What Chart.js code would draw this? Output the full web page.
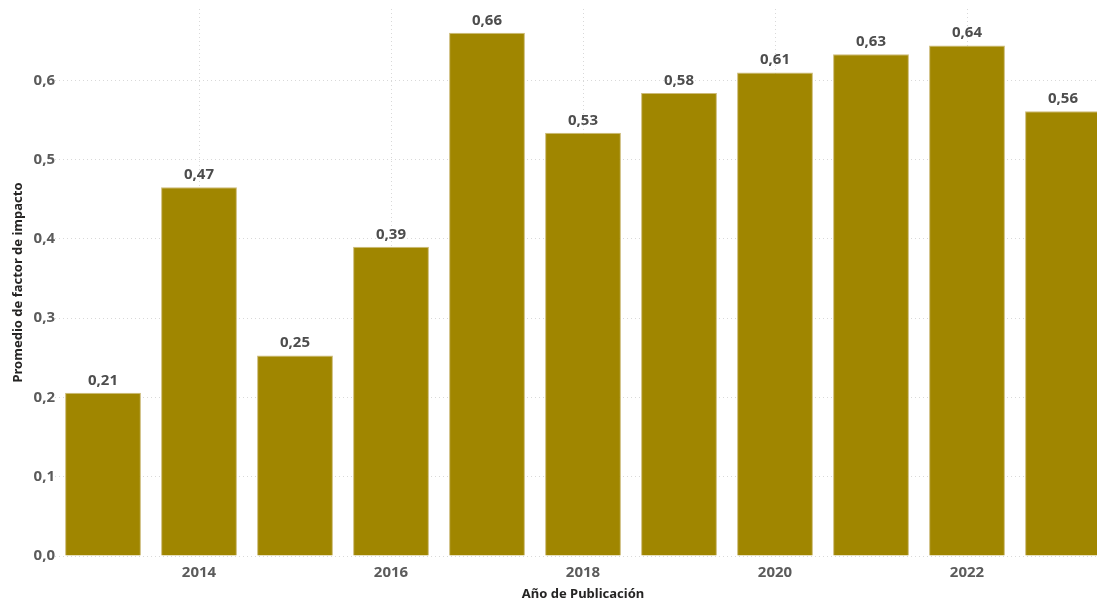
<!DOCTYPE html>
<html>
<head>
<meta charset="utf-8">
<script src="https://cdn.jsdelivr.net/npm/chart.js@4/dist/chart.umd.min.js"></script>
<style>
  html, body { margin: 0; padding: 0; background: #fff; overflow: hidden; }
  #wrap { position: relative; width: 1111px; height: 603px; }
</style>
</head>
<body>
<div id="wrap"><canvas id="c"></canvas></div>
<script>
// Average impact factor per publication year
const years = ['2013', '2014', '2015', '2016', '2017', '2018', '2019', '2020', '2021', '2022', '2023'];
const promedio = [0.206, 0.465, 0.253, 0.390, 0.660, 0.534, 0.584, 0.610, 0.633, 0.644, 0.561];
const yTicks = [0, 0.1, 0.2, 0.3, 0.4, 0.5, 0.6];

const BAR = '#A08600';
const TEXT = '#5b5b5b';
const TITLE = '#252423';
const GRID = '#d9d9d9';
const FONT = '"Noto Sans", "Open Sans", sans-serif';

const fmt = v => v.toFixed(2).replace('.', ',');

// value labels above each bar
const valueLabels = {
  id: 'valueLabels',
  afterDatasetsDraw(chart) {
    const ctx = chart.ctx;
    const meta = chart.getDatasetMeta(0);
    ctx.save();
    ctx.font = 'bold 15px ' + FONT;
    ctx.fillStyle = '#4d4d4d';
    ctx.textAlign = 'center';
    ctx.textBaseline = 'alphabetic';
    meta.data.forEach((bar, i) => {
      ctx.fillText(fmt(promedio[i]), bar.x, bar.y - 8);
    });
    ctx.restore();
  }
};

new Chart(document.getElementById('c'), {
  type: 'bar',
  data: {
    labels: years,
    datasets: [{
      data: promedio,
      backgroundColor: BAR,
      borderColor: '#cdbb78',
      borderWidth: 1,
      categoryPercentage: 1,
      barPercentage: 0.79
    }]
  },
  options: {
    responsive: true,
    maintainAspectRatio: false,
    animation: false,
    layout: { padding: { top: 7, left: 0, right: 0, bottom: 0 } },
    plugins: { legend: { display: false }, tooltip: { enabled: false } },
    scales: {
      x: {
        afterFit(scale) { scale.height = 47; },
        grid: {
          offset: false,
          drawTicks: false,
          color: ctx => (ctx.index % 2 === 1 ? GRID : 'rgba(0,0,0,0)'),
          lineWidth: 1
        },
        border: { display: false, dash: [1, 3] },
        ticks: {
          autoSkip: false,
          maxRotation: 0,
          padding: 8,
          color: TEXT,
          font: { family: FONT, size: 15, weight: 'bold' },
          callback(value, index) {
            const y = years[index];
            return parseInt(y, 10) % 2 === 0 ? y : '';
          }
        },
        title: {
          display: true,
          text: 'Año de Publicación',
          color: TITLE,
          font: { family: FONT, size: 13, weight: 'bold' },
          padding: { top: 0, bottom: 1 }
        }
      },
      y: {
        min: 0,
        max: 0.69,
        afterFit(scale) { scale.width = 55; },
        afterBuildTicks(scale) {
          scale.ticks = yTicks.map(v => ({ value: v }));
        },
        grid: { drawTicks: false, color: GRID, lineWidth: 1 },
        border: { display: false, dash: [1, 3] },
        ticks: {
          padding: 0,
          color: TEXT,
          font: { family: FONT, size: 15, weight: 'bold' },
          callback: v => v.toFixed(1).replace('.', ',')
        },
        title: {
          display: true,
          text: 'Promedio de factor de impacto',
          color: TITLE,
          font: { family: FONT, size: 13, weight: 'bold' },
          padding: { top: 10, bottom: 0 }
        }
      }
    }
  },
  plugins: [valueLabels]
});
</script>
</body>
</html>
